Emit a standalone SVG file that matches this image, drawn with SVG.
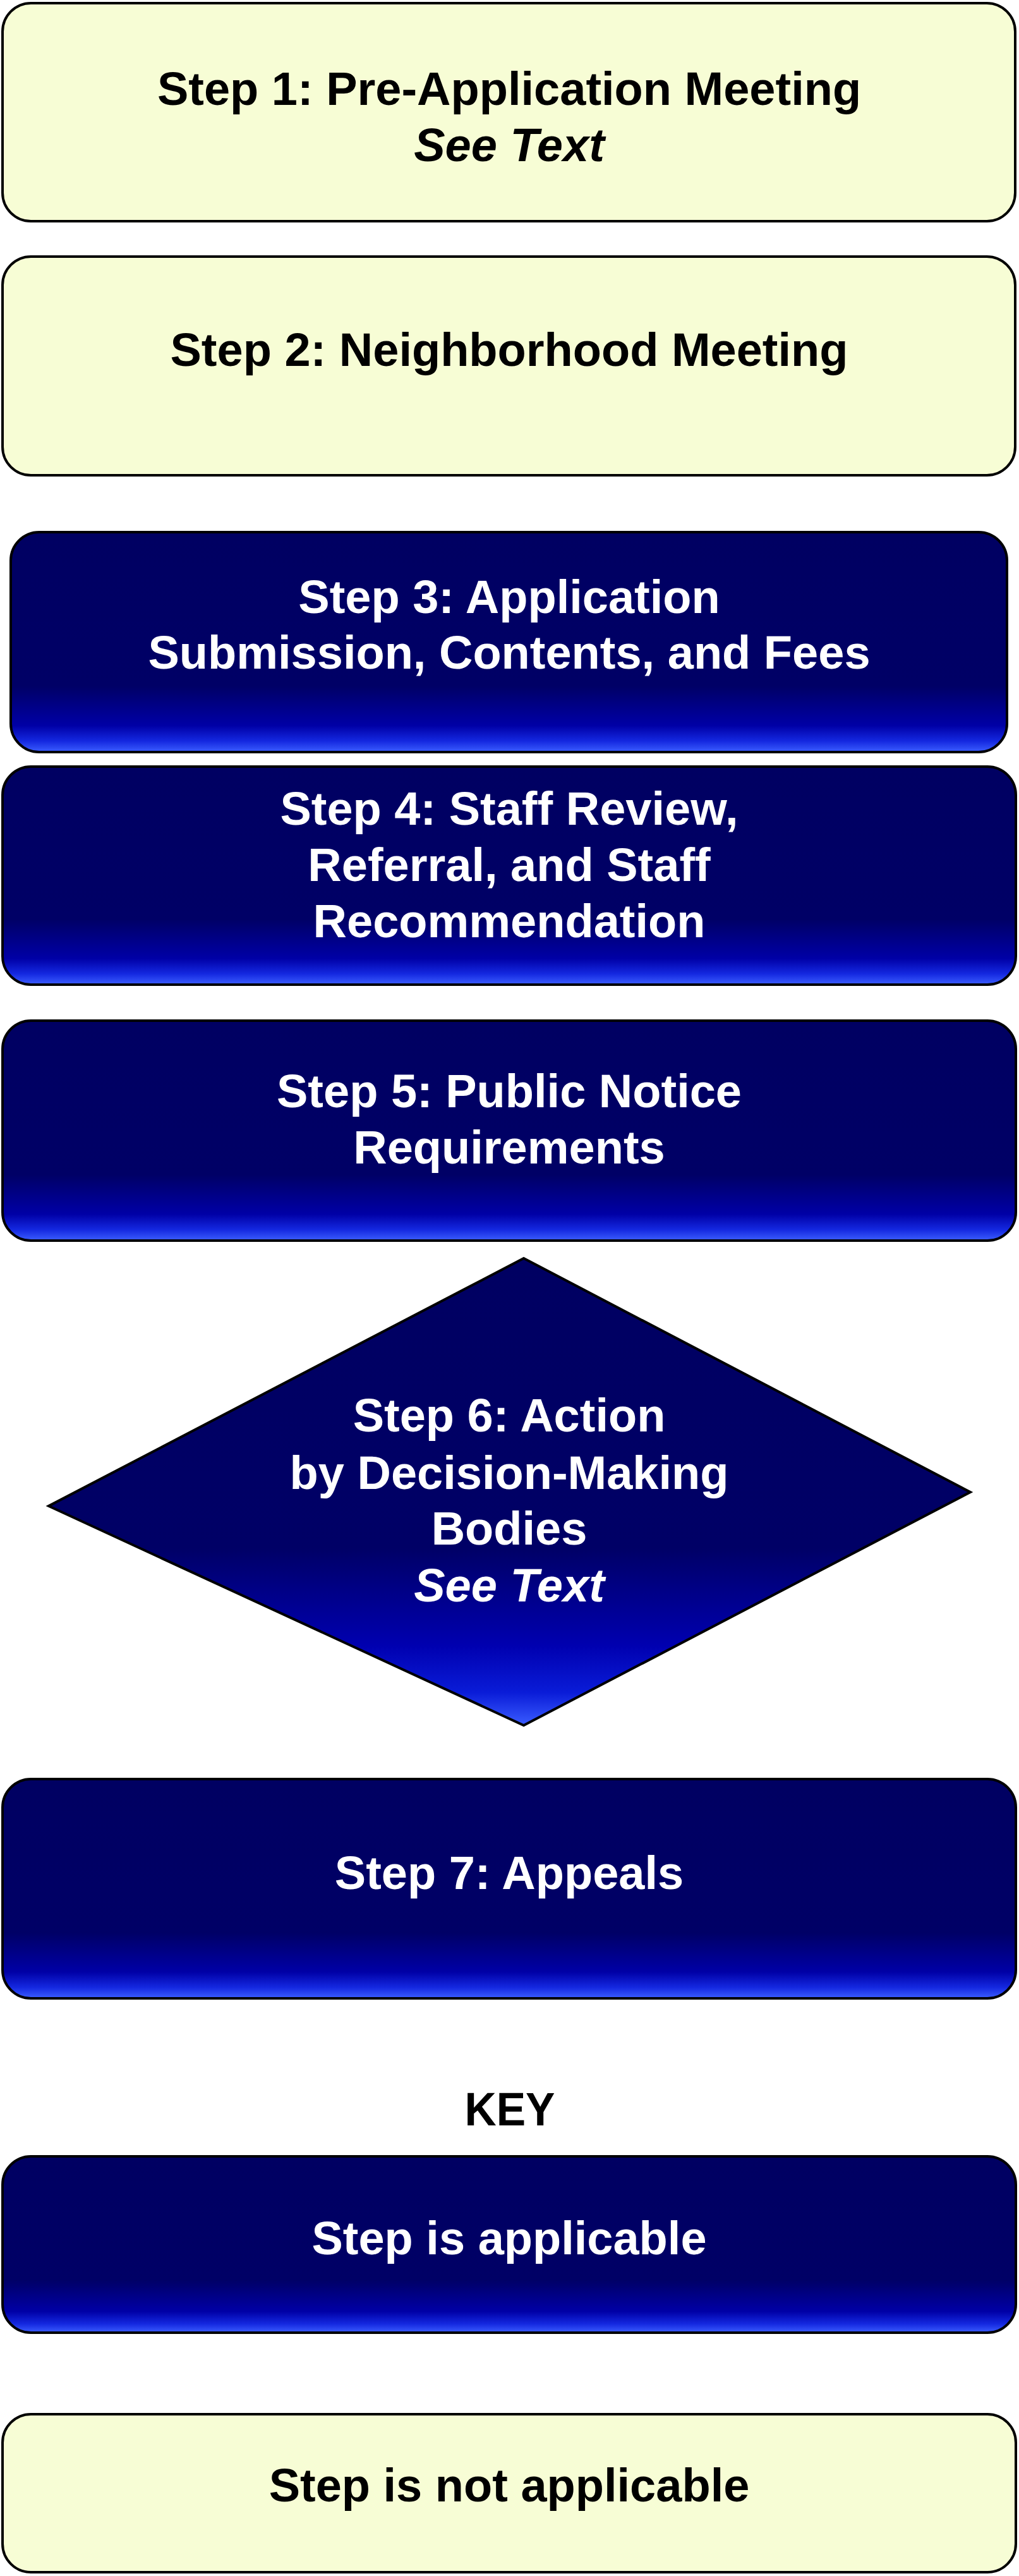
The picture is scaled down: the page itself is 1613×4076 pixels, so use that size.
<svg xmlns="http://www.w3.org/2000/svg" width="1613" height="4076" viewBox="0 0 1613 4076">
<defs>
<linearGradient id="gBox" x1="0" y1="0" x2="0" y2="1">
<stop offset="0" stop-color="#000062"/>
<stop offset="0.7" stop-color="#000066"/>
<stop offset="0.88" stop-color="#0000A6"/>
<stop offset="0.95" stop-color="#1428E0"/>
<stop offset="1" stop-color="#3C5EFF"/>
</linearGradient>
<linearGradient id="gDia" x1="0" y1="0" x2="0" y2="1">
<stop offset="0" stop-color="#000062"/>
<stop offset="0.62" stop-color="#000066"/>
<stop offset="0.83" stop-color="#0000B0"/>
<stop offset="0.93" stop-color="#0A1CD8"/>
<stop offset="1" stop-color="#3A5CFF"/>
</linearGradient>
<style>
.yel{fill:#F7FDD5;stroke:#000;stroke-width:4}
.blu{fill:url(#gBox);stroke:#000;stroke-width:4}
.dia{fill:url(#gDia);stroke:#000;stroke-width:4;stroke-linejoin:miter}
text{font-family:"Liberation Sans",Arial,sans-serif;font-weight:bold;font-size:74px;text-anchor:middle}
.dk{fill:#000}
.wt{fill:#fff}
.it{font-style:italic}
</style>
</defs>
<rect width="1613" height="4076" fill="#fff"/>
<g id="connectors"/>
<g id="step1">
<rect class="yel" x="4" y="5" width="1603" height="345" rx="45" ry="45"/>
<text class="dk" x="806" y="166">Step 1: Pre-Application Meeting</text>
<text class="dk it" x="806" y="255">See Text</text>
</g>
<g id="step2">
<rect class="yel" x="4" y="406" width="1603" height="346" rx="45" ry="45"/>
<text class="dk" x="806" y="579">Step 2: Neighborhood Meeting</text>
</g>
<g id="step3">
<rect class="blu" x="17" y="842" width="1577" height="348" rx="45" ry="45"/>
<text class="wt" x="806" y="970">Step 3: Application</text>
<text class="wt" x="806" y="1058">Submission, Contents, and Fees</text>
</g>
<g id="step4">
<rect class="blu" x="4" y="1213" width="1604" height="345" rx="45" ry="45"/>
<text class="wt" x="806" y="1305">Step 4: Staff Review,</text>
<text class="wt" x="806" y="1394">Referral, and Staff</text>
<text class="wt" x="806" y="1483">Recommendation</text>
</g>
<g id="step5">
<rect class="blu" x="4" y="1615" width="1604" height="348" rx="45" ry="45"/>
<text class="wt" x="806" y="1752">Step 5: Public Notice</text>
<text class="wt" x="806" y="1841">Requirements</text>
</g>
<g id="step6">
<polygon class="dia" points="829,1991 1536,2361 829,2730 77,2383"/>
<text class="wt" x="806" y="2265">Step 6: Action</text>
<text class="wt" x="806" y="2356">by Decision-Making</text>
<text class="wt" x="806" y="2444">Bodies</text>
<text class="wt it" x="806" y="2534">See Text</text>
</g>
<g id="step7">
<rect class="blu" x="4" y="2815" width="1604" height="347" rx="45" ry="45"/>
<text class="wt" x="806" y="2989">Step 7: Appeals</text>
</g>
<g id="key-title">
<text class="dk" x="807" y="3363" font-size="84" textLength="143" lengthAdjust="spacingAndGlyphs">KEY</text>
</g>
<g id="key-applicable">
<rect class="blu" x="4" y="3412" width="1604" height="279" rx="45" ry="45"/>
<text class="wt" x="806" y="3567">Step is applicable</text>
</g>
<g id="key-not-applicable">
<rect class="yel" x="4" y="3820" width="1604" height="250" rx="45" ry="45"/>
<text class="dk" x="806" y="3958">Step is not applicable</text>
</g>
</svg>
